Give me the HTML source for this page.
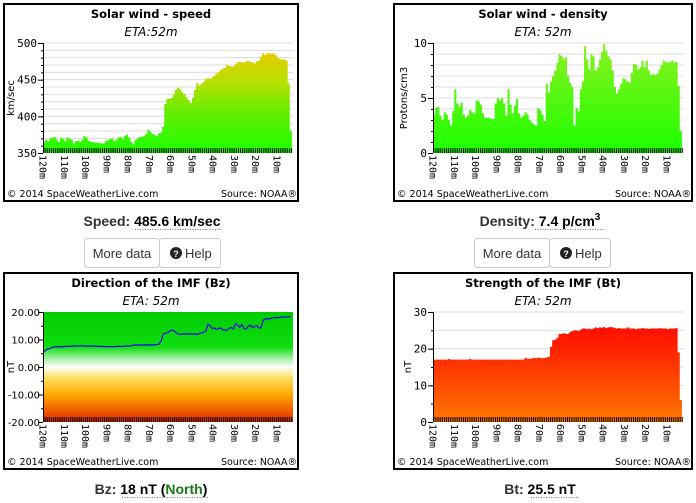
<!DOCTYPE html>
<html><head><meta charset="utf-8"><style>
html,body{margin:0;padding:0;background:#fff;width:696px;height:503px;overflow:hidden}
svg{display:block}
.t{font-family:"DejaVu Sans","Liberation Sans",sans-serif}
.m{font-family:"DejaVu Sans Mono","Liberation Mono",monospace}
.a{font-family:"Liberation Sans",Arial,sans-serif}
</style></head><body>
<svg id="s" width="696" height="503" xmlns="http://www.w3.org/2000/svg">
<defs>
<linearGradient id="gSpeed" gradientUnits="userSpaceOnUse" x1="0" y1="153" x2="0" y2="43"><stop offset="0" stop-color="#1cff00"/><stop offset="0.35" stop-color="#60ee00"/><stop offset="0.65" stop-color="#b8e000"/><stop offset="1" stop-color="#f6c400"/></linearGradient>
<linearGradient id="gDens" gradientUnits="userSpaceOnUse" x1="0" y1="153" x2="0" y2="43"><stop offset="0" stop-color="#1cff00"/><stop offset="1" stop-color="#8cf020"/></linearGradient>
<linearGradient id="gBt" gradientUnits="userSpaceOnUse" x1="0" y1="422" x2="0" y2="312"><stop offset="0" stop-color="#ff7800"/><stop offset="0.6" stop-color="#ff2a00"/><stop offset="1" stop-color="#ff0000"/></linearGradient>
<linearGradient id="gBz" x1="0" y1="0" x2="0" y2="1"><stop offset="0" stop-color="#00cc00"/><stop offset="0.32" stop-color="#10dd10"/><stop offset="0.42" stop-color="#a0f0a0"/><stop offset="0.5" stop-color="#ffffff"/><stop offset="0.6" stop-color="#ffe060"/><stop offset="0.75" stop-color="#ffaa00"/><stop offset="1" stop-color="#e02800"/></linearGradient>
<pattern id="tk" width="2.124" height="5" patternUnits="userSpaceOnUse"><rect width="1" height="5" fill="#000"/></pattern>
</defs>
<g id="root"></g>
</svg>
<script>
const speedVals=[365,368,366,370,371,372,368,365,371,369,366,371,370,368,363,366,367,365,368,373,371,367,365,365,364,364,364,363,363,366,367,369,370,366,368,371,372,369,373,375,371,366,362,368,370,372,372,373,376,382,379,376,375,373,377,378,386,417,424,424,425,430,436,439,437,433,430,426,422,418,425,436,445,442,444,447,451,452,451,453,455,458,460,463,465,466,470,469,468,468,471,474,474,474,473,475,476,474,474,472,475,476,481,486,484,486,486,485,486,483,480,478,477,478,476,445,380];
const densVals=[3.5,4.1,4.2,3.4,3.0,3.7,3.5,3.0,2.5,3.8,5.8,4.5,4.2,4.6,3.5,3.2,3.4,3.9,3.7,3.6,4.8,4.7,4.4,3.6,3.2,3.2,3.2,3.1,3.1,4.5,5.0,4.8,5.0,4.5,3.4,5.8,4.4,3.6,4.3,4.9,3.6,3.2,3.4,3.7,3.5,3.0,2.8,2.6,2.5,4.1,3.9,3.5,2.9,6.3,5.5,6.5,7.0,7.5,8.2,9.0,8.8,8.5,8.7,7.0,6.4,6.0,2.5,4.1,3.8,5.8,6.5,9.7,8.5,7.6,9.0,8.8,7.5,7.8,8.5,9.2,9.9,9.3,8.8,8.5,7.5,6.0,5.4,5.8,6.3,6.8,6.7,6.5,6.4,7.3,8.1,8.0,7.6,7.8,8.4,7.8,8.4,7.5,7.1,7.2,7.1,7.2,7.6,8.0,8.4,8.3,8.2,8.3,8.4,8.2,8.3,6.1,2.0];
const bzVals=[5.5,6.3,6.6,6.8,7.2,7.3,7.4,7.3,7.4,7.4,7.5,7.5,7.5,7.6,7.6,7.6,7.7,7.7,7.7,7.6,7.6,7.6,7.6,7.6,7.6,7.5,7.5,7.5,7.4,7.4,7.4,7.4,7.4,7.4,7.5,7.5,7.5,7.4,7.6,7.7,7.5,7.8,7.9,8.0,8.0,7.9,8.0,8.1,8.0,8.0,8.1,8.0,8.1,8.2,8.3,9.5,12,12.2,12.5,13,13.5,13.2,12.5,12,11.8,12,12.1,12,12,12.1,12,12,11.8,12.2,12.4,12.6,13,15.5,15,14,14.2,13.6,14,14.2,13.5,13.3,13.5,14,14.4,13.8,15.8,15.2,14.5,15.4,14,13.8,14.8,15.2,14.3,14.8,15,14.2,14.3,17,17.5,17.6,17.5,17.8,17.8,18,18,18,18.2,18.2,18.2,18.3,18.3];
const btVals=[17,17,17,17,17,17,17,17.2,17,17,17,17,17,17,17,17,17,17.2,17,17,17,17,17,17,17,17,17,17,17,17,17,17,17,17,17,17,17,17,17,17,17,17,17,17.5,17.3,17.2,17.4,17.5,17.4,17.6,17.5,17.4,17.5,17.6,17.8,20.5,22.3,22.5,23,24,24,24.2,24,24,24.5,24.8,25,25,24.8,25.2,25.5,25.5,25.3,25.5,25.3,25.5,25.8,25.6,25.8,25.7,25.9,25.6,25.8,25.9,25.8,25.6,25.5,25.6,25.5,25.5,25.5,25.8,25.5,25.5,25.5,25.3,25.5,25.5,25.6,25.5,25.5,25.4,25.5,25.5,25.5,25.5,25.6,25.5,25.5,25.5,25.3,25.5,25.5,25.5,25.6,19,6];
const xTicks=[120,110,100,90,80,70,60,50,40,30,20,10];
const speedTicks=[350,400,450,500];
const densTicks=[0,5,10];
const bzTicks=[-20,-10,0,10,20];
const bzTickLabels=["-20.00","-10.00","0.00","10.00","20.00"];
const btTicks=[0,10,20,30];

const NS="http://www.w3.org/2000/svg";
const root=document.getElementById('root');
function el(tag,attrs,parent,text){const e=document.createElementNS(NS,tag);for(const k in attrs)e.setAttribute(k,attrs[k]);if(text!==undefined)e.textContent=text;(parent||root).appendChild(e);return e;}

function chart(o){
  const g=el('g',{});
  
  
  const px=(277-43)/110;
  const xs=m=>o.L+(120-m)*px;
  const ys=v=>o.B-(v-o.min)/(o.max-o.min)*(o.B-o.T);
  const fr=el('rect',{x:o.px0+1,y:o.py0+1,width:o.px1-o.px0-2,height:o.py1-o.py0-2,fill:'#fff',stroke:'#000','stroke-width':2},g);
  
  const cx=(o.px0+o.px1)/2;
  const t=el('text',{x:cx,y:o.py0+15,'text-anchor':'middle','font-size':'11.5','font-weight':'bold',class:'t'},g,o.title);
  
  const e=el('text',{x:cx,y:o.py0+33,'text-anchor':'middle','font-size':'12','font-style':'italic',class:'t'},g,o.eta);
  
  if(o.bg){const b=el('rect',{x:o.L,y:o.T,width:o.R-o.L,height:o.B-o.T,fill:o.bg},g);}
  if(!o.bg){
    for(let v=o.min+o.gstep;v<=o.max+1e-9;v+=o.gstep){
      const l=el('line',{x1:o.L,x2:o.R,y1:ys(v),y2:ys(v),stroke:'#dcdcdc','stroke-width':1},g);
      
    }
  }
  const vals=o.vals;const w=px;
  if(o.type==='area'){
    let d='M'+xs(120)+','+o.B;
    vals.forEach((v,i)=>{const x=xs(120-i);d+=' L'+x+','+ys(v)+' L'+(x+w)+','+ys(v);});
    const lastX=xs(120-vals.length+1)+w;
    d+=' L'+lastX+','+o.B+' Z';
    const a=el('path',{d:d,fill:o.fill},g);
    
  } else {
    let d='';
    vals.forEach((v,i)=>{d+=(i?' L':'M')+(xs(120-i)+w/2)+','+ys(v);});
    const a=el('path',{d:d,fill:'none',stroke:'#0000ee','stroke-width':1.2},g);
    
  }
  const st=el('rect',{x:o.L+1,y:o.B-5,width:o.R-o.L-1,height:5,fill:'url(#tk)'},g);
  
  const ax=el('line',{x1:o.L+0.5,x2:o.L+0.5,y1:o.T,y2:o.B,stroke:'#000','stroke-width':1},g);
  
  for(let v=o.min;v<=o.max+1e-9;v+=o.gstep){const m=el('line',{x1:o.L-2,x2:o.L,y1:ys(v)+0.5,y2:ys(v)+0.5,stroke:'#000'},g);}
  o.ticks.forEach((v,i)=>{
    const m=el('line',{x1:o.L-5,x2:o.L,y1:ys(v)+0.5,y2:ys(v)+0.5,stroke:'#000'},g);
    
    const tl=el('text',{x:o.labels?o.L-3:o.L-6,y:ys(v)+4,'text-anchor':'end','font-size':o.labels?'10':'11',class:o.labels?'t':'m'},g,o.labels?o.labels[i]:String(v));
    
  });
  const yt=el('text',{transform:'translate('+(o.L-o.ytOff)+','+((o.T+o.B)/2)+') rotate(-90)','text-anchor':'middle','font-size':'10',class:'t'},g,o.ytitle);
  
  xTicks.forEach(m=>{
    const tl=el('text',{transform:'translate('+(xs(m)-3.5)+','+(o.B+2)+') rotate(90)','text-anchor':'start','font-size':'10',class:'m'},g,m+'m');
    
  });
  const f1=el('text',{x:o.px0+4,y:o.py1-5,'font-size':'9.5',class:'t'},g,'© 2014 SpaceWeatherLive.com');
  
  const f2=el('text',{x:o.px1-2,y:o.py1-5,'text-anchor':'end','font-size':'9.5',class:'t'},g,'Source:  NOAA®');
  
}
chart({name:'speed-chart',title:'Solar wind - speed',eta:'ETA:52m',px0:3,py0:3,px1:299,py1:202,L:43,R:293,T:43,B:153,min:350,max:500,gstep:10,ticks:speedTicks,vals:speedVals,type:'area',fill:'url(#gSpeed)',ytitle:'km/sec',ytOff:29});
chart({name:'density-chart',title:'Solar wind - density',eta:'ETA: 52m',px0:393,py0:3,px1:693,py1:202,L:433,R:684,T:43,B:153,min:0,max:10,gstep:1,ticks:densTicks,vals:densVals,type:'area',fill:'url(#gDens)',ytitle:'Protons/cm3',ytOff:26});
chart({name:'bz-chart',title:'Direction of the IMF (Bz)',eta:'ETA: 52m',px0:3,py0:272,px1:299,py1:470,L:43,R:293,T:312,B:422,min:-20,max:20,gstep:5,ticks:bzTicks,labels:bzTickLabels,vals:bzVals,type:'line',bg:'url(#gBz)',ytitle:'nT',ytOff:29});
chart({name:'bt-chart',title:'Strength of the IMF (Bt)',eta:'ETA: 52m',px0:393,py0:272,px1:693,py1:470,L:433,R:684,T:312,B:422,min:0,max:30,gstep:5,ticks:btTicks,vals:btVals,type:'area',fill:'url(#gBt)',ytitle:'nT',ytOff:22});

function valueLine(x,y,parts,name){
  const t=el('text',{x:x,y:y,'text-anchor':'middle','font-size':'14','font-weight':'bold',class:'a'});
  
  parts.forEach(p=>{el('tspan',p.a||{},t,p.s);});
  return t;
}
valueLine(152,226,[{s:'Speed: ',a:{fill:'#333'}},{s:'485.6 km/sec',a:{fill:'#000'}}],'speed-value');
valueLine(540,226,[{s:'Density: ',a:{fill:'#333'}},{s:'7.4 p/cm',a:{fill:'#000'}},{s:'3',a:{'font-size':'10',dy:'-6'}}],'density-value');
valueLine(151,494,[{s:'Bz: ',a:{fill:'#333'}},{s:'18 nT (',a:{fill:'#000'}},{s:'North',a:{fill:'#1a7a1a'}},{s:')',a:{fill:'#000'}}],'bz-value');
valueLine(540,494,[{s:'Bt: ',a:{fill:'#333'}},{s:'25.5 nT',a:{fill:'#000'}}],'bt-value');
[[135,221,229],[535,604,229],[122,208,497],[531,579,497]].forEach(([a,b,y])=>{const l=el('line',{x1:a,x2:b,y1:y+0.5,y2:y+0.5,stroke:'#777','stroke-dasharray':'1,1.5'});});

function buttons(x0,pref){
  const g=el('g',{});
  
  const b1=el('rect',{x:x0+0.5,y:238.5,width:75,height:29,rx:3,fill:'#fff',stroke:'#ccc'},g);
  
  const b2=el('rect',{x:x0+75.5,y:238.5,width:61,height:29,rx:3,fill:'#fff',stroke:'#ccc'},g);
  
  const t1=el('text',{x:x0+38,y:258,'text-anchor':'middle','font-size':'13',fill:'#333',class:'a'},g,'More data');
  
  const c=el('circle',{cx:x0+92,cy:253,r:6,fill:'#222'},g);
  
  const q=el('text',{x:x0+92,y:257,'text-anchor':'middle','font-size':'9','font-weight':'bold',fill:'#fff',class:'a'},g,'?');
  
  const t2=el('text',{x:x0+101,y:258,'font-size':'13',fill:'#333',class:'a'},g,'Help');
  
}
buttons(84,'speed');
buttons(474,'density');
</script>
</body></html>
